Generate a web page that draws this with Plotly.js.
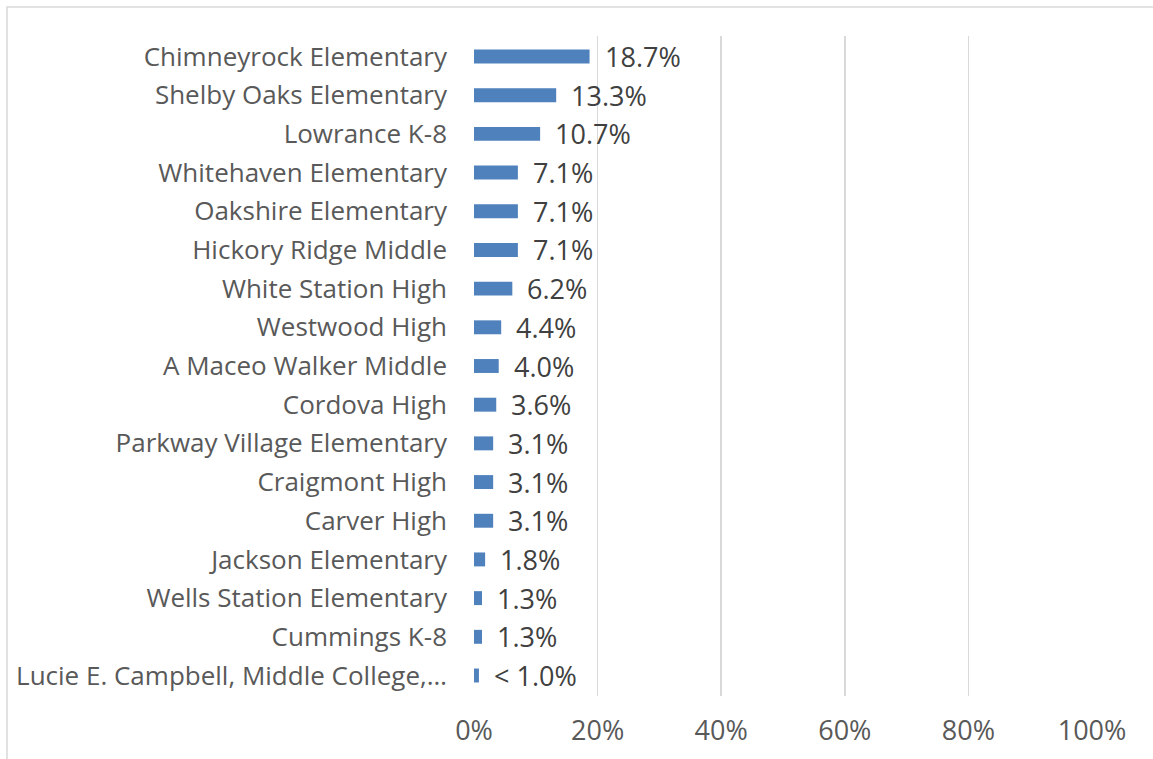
<!DOCTYPE html>
<html>
<head>
<meta charset="utf-8">
<script src="https://cdn.plot.ly/plotly-3.0.1.min.js"></script>
<style>html,body{margin:0;padding:0;background:#fff;}#chart{width:1153px;height:759px;}</style>
</head>
<body>
<div id="chart"></div>
<script>
const schools = [
  "Chimneyrock Elementary",
  "Shelby Oaks Elementary",
  "Lowrance K-8",
  "Whitehaven Elementary",
  "Oakshire Elementary",
  "Hickory Ridge Middle",
  "White Station High",
  "Westwood High",
  "A Maceo Walker Middle",
  "Cordova High",
  "Parkway Village Elementary",
  "Craigmont High",
  "Carver High",
  "Jackson Elementary",
  "Wells Station Elementary",
  "Cummings K-8",
  "Lucie E. Campbell, Middle College,…"
];
const shares = [18.7, 13.3, 10.7, 7.1, 7.1, 7.1, 6.2, 4.4, 4.0, 3.6, 3.1, 3.1, 3.1, 1.8, 1.3, 1.3, 0.8];
const labels = ["18.7%", "13.3%", "10.7%", "7.1%", "7.1%", "7.1%", "6.2%", "4.4%", "4.0%", "3.6%", "3.1%", "3.1%", "3.1%", "1.8%", "1.3%", "1.3%", "< 1.0%"];
const tickVals = [0, 20, 40, 60, 80, 100];
const tickText = ["0%", "20%", "40%", "60%", "80%", "100%"];

const FONT = "Open Sans, Liberation Sans, sans-serif";

const trace = {
  type: "bar",
  orientation: "h",
  x: shares,
  y: schools,
  marker: {color: "#4f81bd"},
  hoverinfo: "skip"
};

const annotations = shares.map((v, i) => ({
  x: v, y: schools[i], xref: "x", yref: "y",
  text: labels[i], showarrow: false, xanchor: "left", xshift: 13,
  font: {family: FONT, size: 27, color: "#404040"}
}));

const layout = {
  width: 1153, height: 759,
  margin: {l: 474, r: 61, t: 36, b: 63},
  paper_bgcolor: "#fff", plot_bgcolor: "#fff",
  showlegend: false,
  bargap: 0.64,
  xaxis: {
    range: [0, 100], tickvals: tickVals, ticktext: tickText,
    showgrid: true, gridcolor: "#d9d9d9", gridwidth: 1.5,
    zeroline: false, showline: false, ticks: "",
    ticklabelstandoff: 16,
    tickfont: {family: FONT, size: 27, color: "#595959"},
    fixedrange: true
  },
  yaxis: {
    autorange: "reversed", type: "category",
    showgrid: false, zeroline: false, showline: false, ticks: "",
    ticklabelstandoff: 26,
    tickfont: {family: FONT, size: 26, color: "#595959"},
    fixedrange: true
  },
  annotations: annotations,
  shapes: [{
    type: "rect", xref: "paper", yref: "paper",
    x0: -474/618 + 7/618, x1: 1.2, y0: -0.2, y1: 1 + 29/660,
    line: {color: "#d9d9d9", width: 1.5}, fillcolor: "rgba(0,0,0,0)", layer: "below"
  }]
};

Plotly.newPlot("chart", [trace], layout, {displayModeBar: false, staticPlot: true});
</script>
</body>
</html>
